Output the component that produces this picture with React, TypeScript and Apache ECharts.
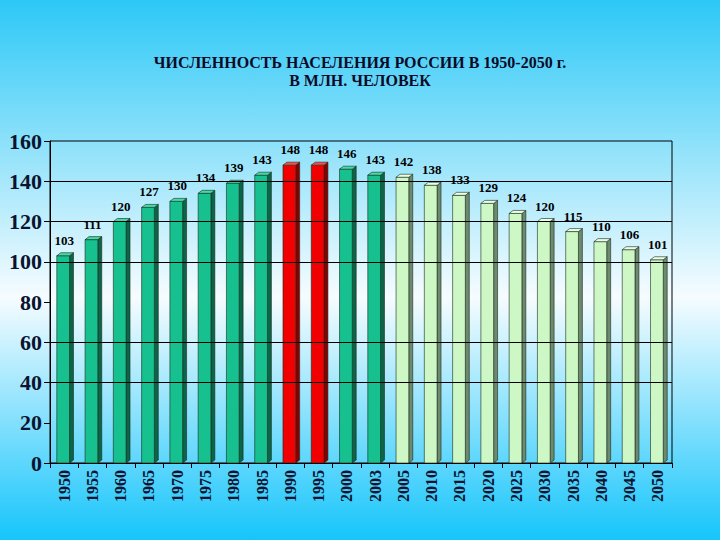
import { useEffect, useRef } from 'react';
import * as echarts from 'echarts';

const years = [
  '1950', '1955', '1960', '1965', '1970', '1975', '1980', '1985', '1990', '1995',
  '2000', '2003', '2005', '2010', '2015', '2020', '2025', '2030', '2035', '2040',
  '2045', '2050',
];
const population = [
  103, 111, 120, 127, 130, 134, 139, 143, 148, 148,
  146, 143, 142, 138, 133, 129, 124, 120, 115, 110,
  106, 101,
];
const peakYears = ['1990', '1995'];
const forecastFrom = 2005;
const yTicks = [0, 20, 40, 60, 80, 100, 120, 140, 160];
// horizontal rules that are visible in the original slide
const ruleValues = [40, 60, 100, 120, 140];
const titleLines = ['ЧИСЛЕННОСТЬ НАСЕЛЕНИЯ РОССИИ В 1950-2050 г.', 'В МЛН. ЧЕЛОВЕК'];

// no double quotes here: the svg renderer puts this inside a style attribute
const SERIF = 'Liberation Serif, Times New Roman, serif';

// front, side, top colours for each kind of bar
const palette = {
  past: ['#17c08f', '#0b6548', '#3fdcaa'],
  peak: ['#f00000', '#8a0000', '#ff4a4a'],
  forecast: ['#cdf8c6', '#6e8a6e', '#eaffe6'],
};

function kindOf(year: string) {
  if (peakYears.includes(year)) return palette.peak;
  if (Number(year) >= forecastFrom) return palette.forecast;
  return palette.past;
}

export default function App() {
  const chartRef = useRef<HTMLDivElement>(null);

  useEffect(() => {
    if (!chartRef.current) return;
    const chart = echarts.init(chartRef.current, null, { renderer: 'svg' });

    const renderItem = (params: any, api: any) => {
      const idx = api.value(0);
      const v = api.value(1);
      const [cx, yTop] = api.coord([idx, v]);
      const [, y0] = api.coord([idx, 0]);
      const band = api.size([1, 0])[0];
      const fw = band * 0.45;
      const d = band * 0.14;
      const dy = 3;
      const left = cx - (fw + d) / 2 + 1;
      const right = left + fw;
      const [front, side, top] = kindOf(years[idx]);
      return {
        type: 'group',
        children: [
          {
            type: 'polygon',
            shape: {
              points: [
                [right, yTop],
                [right + d, yTop - dy],
                [right + d, y0 - dy],
                [right, y0],
              ],
            },
            style: { fill: side, stroke: '#1a2a1a', lineWidth: 0.6 },
          },
          {
            type: 'rect',
            shape: { x: left, y: yTop, width: fw, height: y0 - yTop },
            style: { fill: front, stroke: '#1a2a1a', lineWidth: 0.6 },
          },
          {
            type: 'polygon',
            shape: {
              points: [
                [left, yTop],
                [left + d, yTop - dy],
                [right + d, yTop - dy],
                [right, yTop],
              ],
            },
            style: { fill: top, stroke: '#1a2a1a', lineWidth: 0.6 },
          },
          {
            type: 'text',
            x: cx,
            y: yTop - 9,
            style: {
              text: String(v),
              align: 'center',
              verticalAlign: 'bottom',
              font: `bold 13px ${SERIF}`,
              fill: '#000',
            },
          },
        ],
      };
    };

    const option: echarts.EChartsOption = {
      animation: false,
      backgroundColor: {
        type: 'linear',
        x: 0,
        y: 0,
        x2: 0,
        y2: 1,
        colorStops: [
          { offset: 0, color: '#2cc8f6' },
          { offset: 0.55, color: '#f6fcff' },
          { offset: 1, color: '#16c5fb' },
        ],
      },
      graphic: titleLines.map((line, i) => ({
        type: 'text',
        x: 360,
        y: 62 + i * 18,
        style: {
          text: line,
          align: 'center',
          verticalAlign: 'middle',
          font: `bold 16px ${SERIF}`,
          fill: '#0a0a28',
        },
      })),
      grid: {
        left: 50,
        right: 48,
        top: 141,
        bottom: 77,
        show: true,
        borderColor: '#000',
        borderWidth: 1,
        backgroundColor: 'transparent',
      },
      xAxis: {
        type: 'category',
        data: years,
        boundaryGap: true,
        axisLine: { lineStyle: { color: '#000', width: 1 } },
        axisTick: { show: true, interval: 0, length: 5, lineStyle: { color: '#000' } },
        axisLabel: {
          interval: 0,
          rotate: 90,
          margin: 7,
          fontFamily: SERIF,
          fontWeight: 'bold',
          fontSize: 16,
          color: '#0a1430',
        },
      },
      yAxis: {
        type: 'value',
        min: yTicks[0],
        max: yTicks[yTicks.length - 1],
        interval: 20,
        axisLine: { show: true, lineStyle: { color: '#000' } },
        axisTick: { show: true, length: 6, lineStyle: { color: '#000' } },
        axisLabel: {
          margin: 8,
          fontFamily: SERIF,
          fontWeight: 'bold',
          fontSize: 22,
          color: '#0a1430',
        },
        splitLine: { show: false },
      },
      series: [
        {
          type: 'line',
          data: [],
          z: 1,
          silent: true,
          markLine: {
            silent: true,
            symbol: 'none',
            label: { show: false },
            lineStyle: { color: '#000', width: 1, type: 'solid' },
            data: ruleValues.map((v) => ({ yAxis: v })),
          },
        },
        {
          type: 'custom',
          z: 3,
          renderItem: renderItem as any,
          data: population.map((v, i) => [i, v]),
          encode: { x: 0, y: 1 },
          clip: false,
        },
      ],
    };

    chart.setOption(option);
    return () => chart.dispose();
  }, []);

  return (
    <div
      ref={chartRef}
      style={{ position: 'fixed', left: 0, top: 0, width: 720, height: 540 }}
    />
  );
}
